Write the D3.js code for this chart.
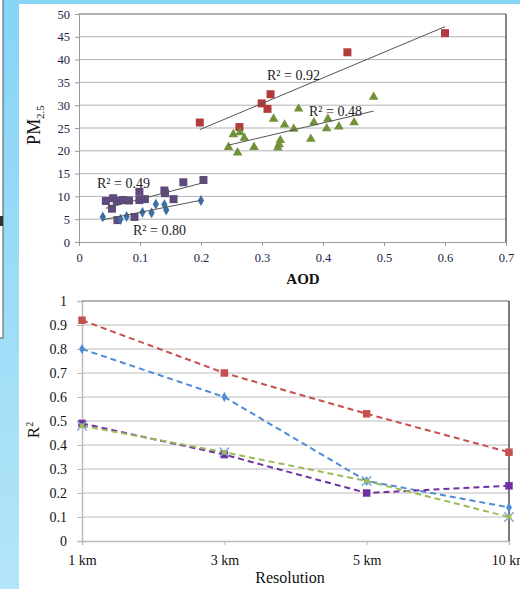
<!DOCTYPE html>
<html>
<head>
<meta charset="utf-8">
<script src="https://cdn.jsdelivr.net/npm/d3@7"></script>
<style>
  html, body { margin: 0; padding: 0; }
  body { width: 520px; height: 589px; overflow: hidden; background: #fff; }
  svg text { font-family: "Liberation Serif", "DejaVu Serif", serif; }
</style>
</head>
<body>
<div id="chart"></div>
<script>
// ---- scatter data (AOD vs PM2.5) ----
const redPts = [[0.198, 26.2], [0.263, 25.2], [0.2995, 30.4], [0.309, 29.2], [0.314, 32.4], [0.44, 41.6], [0.6, 45.8]];
const greenPts = [[0.483, 31.8], [0.36, 29.2], [0.319, 27.0], [0.337, 25.7], [0.352, 24.8], [0.385, 26.2], [0.408, 27.0],
  [0.406, 24.9], [0.426, 25.3], [0.451, 26.2], [0.38, 22.6], [0.33, 22.3], [0.328, 21.4], [0.326, 20.7], [0.287, 20.8],
  [0.245, 20.8], [0.26, 19.6], [0.253, 23.6], [0.264, 24.0], [0.271, 22.8]];
const purplePts = [[0.044, 9.0], [0.054, 7.3], [0.056, 9.6], [0.062, 9.0], [0.063, 4.8], [0.072, 9.2], [0.082, 9.1],
  [0.091, 5.5], [0.099, 11.0], [0.099, 9.2], [0.108, 9.4], [0.14, 11.3], [0.141, 10.7], [0.155, 9.4], [0.171, 13.1], [0.204, 13.6]];
const bluePts = [[0.039, 5.5], [0.068, 5.0], [0.078, 5.6], [0.104, 6.5], [0.119, 6.4], [0.126, 8.3], [0.14, 8.2], [0.143, 7.0], [0.2, 9.1]];
const r2Labels = ["R² = 0.92", "R² = 0.48", "R² = 0.49", "R² = 0.80"];
const aodTicks = [0, 0.1, 0.2, 0.3, 0.4, 0.5, 0.6, 0.7];
const pmTicks = [0, 5, 10, 15, 20, 25, 30, 35, 40, 45, 50];

// ---- R2 by resolution ----
const resolutions = ["1 km", "3 km", "5 km", "10 km"];
const r2Red = [0.92, 0.70, 0.53, 0.37];
const r2Blue = [0.80, 0.60, 0.25, 0.14];
const r2Purple = [0.49, 0.36, 0.20, 0.23];
const r2Green = [0.48, 0.37, 0.25, 0.10];
const r2Ticks = [0, 0.1, 0.2, 0.3, 0.4, 0.5, 0.6, 0.7, 0.8, 0.9, 1];

const svg = d3.select("#chart").append("svg").attr("width", 520).attr("height", 589);

// background frame
const grad = svg.append("defs").append("linearGradient").attr("id", "bg").attr("x1", 0).attr("y1", 0).attr("x2", 0).attr("y2", 1);
grad.append("stop").attr("offset", 0).attr("stop-color", "#86d4f6");
grad.append("stop").attr("offset", 1).attr("stop-color", "#b3e5f8");
svg.append("rect").attr("width", 520).attr("height", 589).attr("fill", "url(#bg)");
svg.append("rect").attr("x", 19).attr("y", 4).attr("width", 501).attr("height", 585).attr("fill", "#fff");
svg.append("rect").attr("x", -2).attr("y", -2).attr("width", 5).attr("height", 340).attr("fill", "#fff").attr("stroke", "#555").attr("stroke-width", 1);
svg.append("rect").attr("x", 0).attr("y", 216).attr("width", 3).attr("height", 10).attr("fill", "#333");

// ================= top scatter =================
const x1 = d3.scaleLinear().domain([0, 0.7]).range([79, 506]);
const y1 = d3.scaleLinear().domain([0, 50]).range([242, 14]);
const topG = svg.append("g");

topG.append("g").selectAll("line").data(pmTicks.slice(1)).enter().append("line")
  .attr("x1", x1(0)).attr("x2", x1(0.7)).attr("y1", (d) => y1(d)).attr("y2", (d) => y1(d))
  .attr("stroke", "#b4b4b4").attr("stroke-width", 1);

const yAx1 = topG.append("g").attr("transform", `translate(${x1(0)},0)`)
  .call(d3.axisLeft(y1).tickValues(pmTicks).tickSize(4).tickPadding(5));
const xAx1 = topG.append("g").attr("transform", `translate(0,${y1(0)})`)
  .call(d3.axisBottom(x1).tickValues(aodTicks).tickSize(4).tickPadding(7).tickFormat((d) => d));
[yAx1, xAx1].forEach((a) => {
  a.select(".domain").attr("stroke", "#999");
  a.selectAll(".tick line").attr("stroke", "#999");
  a.selectAll(".tick text").attr("fill", "#23234a").attr("font-size", 12.5);
});
topG.append("line").attr("x1", x1(0.7)).attr("x2", x1(0.7)).attr("y1", y1(0)).attr("y2", y1(50)).attr("stroke", "#333").attr("stroke-width", 1.2);
topG.append("line").attr("x1", x1(0)).attr("x2", x1(0.7)).attr("y1", y1(50)).attr("y2", y1(50)).attr("stroke", "#888");

// least squares trend lines
function trend(pts) {
  const mx = d3.mean(pts, (d) => d[0]);
  const my = d3.mean(pts, (d) => d[1]);
  const b = d3.sum(pts, (d) => (d[0] - mx) * (d[1] - my)) / d3.sum(pts, (d) => (d[0] - mx) ** 2);
  const ext = d3.extent(pts, (d) => d[0]);
  return ext.map((xv) => [xv, my + b * (xv - mx)]);
}

const scatterSeries = [
  { pts: redPts, color: "#b03b3a", shape: d3.symbolSquare, size: 64 },
  { pts: greenPts, color: "#72923a", shape: d3.symbolTriangle, size: 40 },
  { pts: purplePts, color: "#5f4a7d", shape: d3.symbolSquare, size: 64 },
  { pts: bluePts, color: "#3b6fa6", shape: d3.symbolDiamond, size: 34 }
];

scatterSeries.forEach((s) => {
  topG.append("g").selectAll("path").data(s.pts).enter().append("path")
    .attr("d", d3.symbol().type(s.shape).size(s.size))
    .attr("transform", (d) => `translate(${x1(d[0])},${y1(d[1])})`)
    .attr("fill", s.color);
});
scatterSeries.forEach((s) => {
  const t = trend(s.pts);
  topG.append("line")
    .attr("x1", x1(t[0][0])).attr("y1", y1(t[0][1]))
    .attr("x2", x1(t[1][0])).attr("y2", y1(t[1][1]))
    .attr("stroke", "#555").attr("stroke-width", 1);
});

const r2Pos = [[267, 80], [309, 116], [97, 188], [133, 235]];
topG.selectAll(".r2").data(r2Labels).enter().append("text")
  .attr("x", (d, i) => r2Pos[i][0]).attr("y", (d, i) => r2Pos[i][1])
  .attr("font-size", 14).attr("fill", "#222").text((d) => d);

topG.append("text").attr("x", 303).attr("y", 284).attr("text-anchor", "middle")
  .attr("font-size", 15).attr("font-weight", "bold").attr("fill", "#111").text("AOD");
const pmLab = topG.append("text").attr("transform", "translate(40,125) rotate(-90)").attr("text-anchor", "middle")
  .attr("font-size", 18).attr("fill", "#111");
pmLab.append("tspan").text("PM");
pmLab.append("tspan").attr("font-size", 11).attr("dy", 4).text("2.5");

// ================= bottom line chart =================
const x2 = d3.scalePoint().domain(resolutions).range([82, 509]);
const y2 = d3.scaleLinear().domain([0, 1]).range([541, 301]);
const botG = svg.append("g");

botG.append("g").selectAll("line").data(r2Ticks.slice(1, -1)).enter().append("line")
  .attr("x1", x2("1 km")).attr("x2", x2("10 km")).attr("y1", (d) => y2(d)).attr("y2", (d) => y2(d))
  .attr("stroke", "#d2d2d2").attr("stroke-width", 1.5);

const yAx2 = botG.append("g").attr("transform", `translate(${x2("1 km")},0)`)
  .call(d3.axisLeft(y2).tickValues(r2Ticks).tickSize(5).tickPadding(10).tickFormat((d) => d));
const xAx2 = botG.append("g").attr("transform", `translate(0,${y2(0)})`)
  .call(d3.axisBottom(x2).tickSize(4).tickPadding(10));
[yAx2, xAx2].forEach((a) => {
  a.select(".domain").attr("stroke", "#bbb").attr("stroke-width", 1.5);
  a.selectAll(".tick line").attr("stroke", "#bbb");
  a.selectAll(".tick text").attr("fill", "#111").attr("font-size", 14);
});
botG.append("line").attr("x1", x2("1 km")).attr("x2", x2("10 km")).attr("y1", y2(1)).attr("y2", y2(1)).attr("stroke", "#666").attr("stroke-width", 1.2);
botG.append("line").attr("x1", x2("10 km")).attr("x2", x2("10 km")).attr("y1", y2(0)).attr("y2", y2(1)).attr("stroke", "#222").attr("stroke-width", 1.2);

const lineSeries = [
  { vals: r2Red, color: "#c5504d", mark: "square" },
  { vals: r2Blue, color: "#4f8bd6", mark: "diamond" },
  { vals: r2Purple, color: "#7030a0", mark: "square" },
  { vals: r2Green, color: "#9bbb59", mark: "x" }
];
const line = d3.line().x((d, i) => x2(resolutions[i])).y((d) => y2(d));

lineSeries.forEach((s) => {
  botG.append("path").datum(s.vals).attr("d", line)
    .attr("fill", "none").attr("stroke", s.color).attr("stroke-width", 2).attr("stroke-dasharray", "6,4");
});
lineSeries.forEach((s) => {
  const g = botG.append("g").selectAll("g").data(s.vals).enter().append("g")
    .attr("transform", (d, i) => `translate(${x2(resolutions[i])},${y2(d)})`);
  if (s.mark === "square") {
    g.append("path").attr("d", d3.symbol().type(d3.symbolSquare).size(56)).attr("fill", s.color);
  } else if (s.mark === "diamond") {
    g.append("path").attr("d", d3.symbol().type(d3.symbolDiamond).size(30)).attr("fill", s.color);
  } else {
    g.append("path").attr("d", d3.symbol().type(d3.symbolX).size(60)).attr("fill", "none").attr("stroke", "#7fa8d8").attr("stroke-width", 1.5);
    g.append("circle").attr("r", 2.5).attr("fill", s.color);
  }
});

const r2Lab = botG.append("text").attr("transform", "translate(39,430) rotate(-90)").attr("text-anchor", "middle")
  .attr("font-size", 17).attr("fill", "#111");
r2Lab.append("tspan").text("R");
r2Lab.append("tspan").attr("font-size", 10).attr("dy", -6).text("2");

botG.append("text").attr("x", 290).attr("y", 583).attr("text-anchor", "middle")
  .attr("font-size", 16).attr("fill", "#111").text("Resolution");
</script>
</body>
</html>
